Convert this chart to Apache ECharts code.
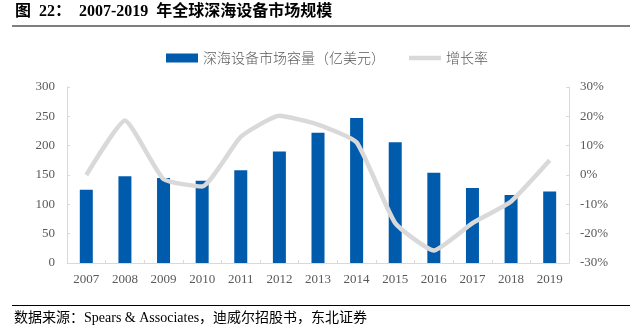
<!DOCTYPE html>
<html><head><meta charset="utf-8">
<script src="https://cdn.jsdelivr.net/npm/echarts@6/dist/echarts.min.js"></script>
<style>html,body{margin:0;padding:0;background:#fff}#c{width:630px;height:335px}</style>
</head><body><div id="c"></div>
<script>
const categories = ['2007','2008','2009','2010','2011','2012','2013','2014','2015','2016','2017','2018','2019'];
const marketSize = [125, 148, 145, 140, 158, 190, 222, 247, 206, 154, 128, 116, 122];
const growthRate = [0, 18.6, -1.4, -3.9, 13.0, 20.2, 17.2, 11.1, -16.4, -25.7, -16.4, -9.0, 5.0];
const leftTicks = [0, 300, 50];
const rightTicks = [-30, 30, 10];

const serif = '"Liberation Serif","Times New Roman","Noto Sans CJK SC",serif';
const gray = '#595959';
const axisGray = '#d9d9d9';
const chart = echarts.init(document.getElementById('c'));
chart.setOption({
  animation: false,
  textStyle: {fontFamily: serif},
  grid: {left: 67, right: 61, top: 87, bottom: 72},
  legend: {
    top: 46, left: 161, itemGap: 24, itemWidth: 32, itemHeight: 9,
    textStyle: {fontFamily: '"Noto Sans CJK SC",sans-serif', fontSize: 14, color: gray, fontWeight: 300},
    data: [
      {name: '深海设备市场容量（亿美元）', icon: 'rect'},
      {name: '增长率', icon: 'path://M0,0L32,0L32,4.5L0,4.5Z', itemStyle: {color: '#d9d9d9'}}
    ]
  },
  xAxis: {
    type: 'category', data: categories,
    axisLine: {lineStyle: {color: axisGray, width: 1}},
    axisTick: {show: true, inside: true, length: 3, lineStyle: {color: axisGray}},
    axisLabel: {color: gray, fontSize: 13, margin: 10, fontFamily: serif}
  },
  yAxis: [{
    type: 'value', min: leftTicks[0], max: leftTicks[1], interval: leftTicks[2],
    axisLine: {show: true, lineStyle: {color: axisGray}},
    axisTick: {show: true, inside: true, length: 3, lineStyle: {color: axisGray}},
    splitLine: {show: false},
    axisLabel: {color: gray, fontSize: 13, margin: 12, fontFamily: serif}
  }, {
    type: 'value', min: rightTicks[0], max: rightTicks[1], interval: rightTicks[2],
    axisLine: {show: true, lineStyle: {color: axisGray}},
    axisTick: {show: true, inside: true, length: 3, lineStyle: {color: axisGray}},
    splitLine: {show: false},
    axisLabel: {color: gray, fontSize: 13, margin: 11, fontFamily: serif, formatter: '{value}%'}
  }],
  series: [{
    name: '深海设备市场容量（亿美元）', type: 'bar', data: marketSize, barWidth: 13,
    itemStyle: {color: '#005bac'}
  }, {
    name: '增长率', type: 'line', yAxisIndex: 1, data: growthRate, smooth: 0.15,
    symbol: 'none', lineStyle: {color: '#d9d9d9', width: 4.5}, itemStyle: {color: '#d9d9d9'}
  }],
  graphic: [
    {type: 'text', left: 15, top: 4, style: {text: '图  22：  2007-2019  年全球深海设备市场规模', font: 'bold 16px "Liberation Serif","Noto Sans CJK SC",serif', fill: '#000'}},
    {type: 'rect', shape: {x: 12, y: 25, width: 618, height: 2}, style: {fill: '#7f7f7f'}},
    {type: 'rect', shape: {x: 12, y: 305, width: 618, height: 1}, style: {fill: '#000'}},
    {type: 'text', left: 14, top: 311, style: {text: '数据来源：Spears & Associates，迪威尔招股书，东北证券', font: '14px "Liberation Serif","Noto Sans CJK SC",serif', fill: '#000'}}
  ]
});
</script></body></html>
